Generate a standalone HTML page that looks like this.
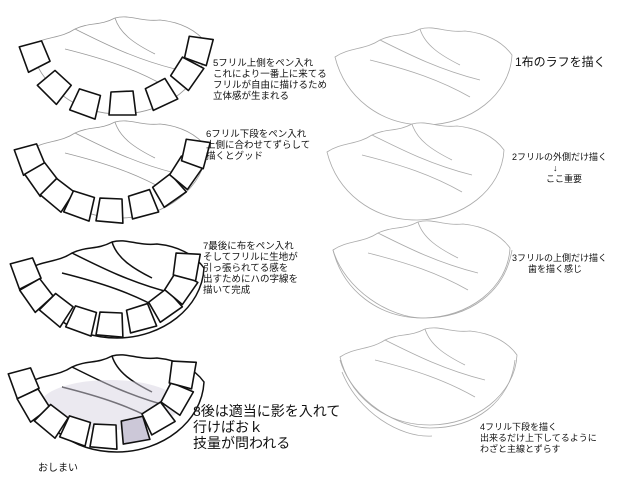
<!DOCTYPE html>
<html><head><meta charset="utf-8"><style>
body{margin:0;background:#fff;}
svg{display:block}
text{font-family:"Liberation Sans","Noto Sans CJK JP",sans-serif;fill:#111;}
</style></head><body>
<svg width="620" height="479" viewBox="0 0 620 479" xmlns="http://www.w3.org/2000/svg">
<defs>
<symbol id="body" overflow="visible">
<path d="M5,32 C20,22 35,25 50,15 C65,8 75,12 90,4 C105,0 115,8 135,6 C155,8 172,16 182,30 C180,70 140,100 95,100 C50,100 15,72 5,32 Z" fill="#fff"/>
<path d="M50,15 C80,30 110,45 150,55 M40,35 C80,45 110,55 140,72 M90,4 C95,20 110,30 130,40" fill="none"/>
</symbol>
<symbol id="blk" overflow="visible"><path d="M-11,-11 L11,-12 L14,12 L-13,12 Z" /></symbol>
</defs>

<g stroke="#999" stroke-width="0.8" fill="none"><use href="#body" x="25" y="14"/></g>
<g stroke="#111" stroke-width="1.6" fill="#fff" stroke-linejoin="round">
<use href="#blk" transform="translate(35,55) rotate(70)"/>
<use href="#blk" transform="translate(55,86) rotate(45)"/>
<use href="#blk" transform="translate(86,103) rotate(20)"/>
<use href="#blk" transform="translate(122,103) rotate(0)"/>
<use href="#blk" transform="translate(160,94) rotate(-25)"/>
<use href="#blk" transform="translate(186,73) rotate(-55)"/>
<use href="#blk" transform="translate(198,50) rotate(-75)"/>
</g>

<g stroke="#999" stroke-width="0.8" fill="none"><use href="#body" x="25" y="118"/></g>
<g stroke="#111" stroke-width="1.6" fill="#fff" stroke-linejoin="round">
<use href="#blk" transform="translate(30,158) rotate(70)"/>
<use href="#blk" transform="translate(42,178) rotate(55)"/>
<use href="#blk" transform="translate(58,194) rotate(40)"/>
<use href="#blk" transform="translate(80,205) rotate(20)"/>
<use href="#blk" transform="translate(110,210) rotate(5)"/>
<use href="#blk" transform="translate(142,204) rotate(-15)"/>
<use href="#blk" transform="translate(168,190) rotate(-35)"/>
<use href="#blk" transform="translate(185,172) rotate(-55)"/>
<use href="#blk" transform="translate(195,153) rotate(-75)"/>
</g>

<g stroke="#111" stroke-width="1.5" fill="none"><use href="#body" x="22" y="238"/></g>
<g stroke="#111" stroke-width="1.6" fill="#fff" stroke-linejoin="round">
<use href="#blk" transform="translate(26,272) rotate(70)"/>
<use href="#blk" transform="translate(37,294) rotate(55)"/>
<use href="#blk" transform="translate(57,309) rotate(40)"/>
<use href="#blk" transform="translate(82,320) rotate(20)"/>
<use href="#blk" transform="translate(110,324) rotate(5)"/>
<use href="#blk" transform="translate(140,318) rotate(-15)"/>
<use href="#blk" transform="translate(164,305) rotate(-35)"/>
<use href="#blk" transform="translate(180,287) rotate(-55)"/>
<use href="#blk" transform="translate(186,266) rotate(-80)"/>
</g>

<g stroke="#111" stroke-width="1.5" fill="none"><use href="#body" x="22" y="352"/></g>
<ellipse cx="110" cy="405" rx="70" ry="25" fill="#d8d4e2" opacity="0.5"/>
<g stroke="#111" stroke-width="1.6" fill="#fff" stroke-linejoin="round">
<use href="#blk" transform="translate(24,382) rotate(70)"/>
<use href="#blk" transform="translate(34,404) rotate(60)"/>
<use href="#blk" transform="translate(52,420) rotate(40)"/>
<use href="#blk" transform="translate(76,430) rotate(20)"/>
<use href="#blk" transform="translate(104,436) rotate(5)"/>
<use href="#blk" transform="translate(134,430) rotate(-10)" fill="#ccc8d8"/>
<use href="#blk" transform="translate(157,418) rotate(-30)"/>
<use href="#blk" transform="translate(176,398) rotate(-60)"/>
<use href="#blk" transform="translate(182,374) rotate(-80)"/>
</g>

<g stroke="#aaa" stroke-width="0.8" fill="none">
<use href="#body" x="330" y="25"/>
<use href="#body" x="322" y="120"/>
<use href="#body" x="328" y="218"/>
<path d="M333,250 C345,290 390,318 423,318 C470,318 505,292 512,250"/>
<use href="#body" x="335" y="325"/>
<path d="M340,360 C352,400 397,428 430,428 C475,428 510,402 515,360"/>
<path d="M342,372 C358,412 400,438 432,436"/>
</g>

<g font-size="9.5">
<text x="213" y="66">5フリル上側をペン入れ</text>
<text x="213" y="77">これにより一番上に来てる</text>
<text x="213" y="88">フリルが自由に描けるため</text>
<text x="213" y="99">立体感が生まれる</text>
<text x="206" y="137">6フリル下段をペン入れ</text>
<text x="206" y="148">上側に合わせてずらして</text>
<text x="206" y="159">描くとグッド</text>
<text x="203" y="249">7最後に布をペン入れ</text>
<text x="203" y="260">そしてフリルに生地が</text>
<text x="203" y="271">引っ張られてる感を</text>
<text x="203" y="282">出すためにハの字線を</text>
<text x="203" y="293">描いて完成</text>
<text x="512" y="160" font-size="9">2フリルの外側だけ描く</text>
<text x="553" y="171" font-size="9">↓</text>
<text x="546" y="182" font-size="9">ここ重要</text>
<text x="512" y="261" font-size="9">3フリルの上側だけ描く</text>
<text x="528" y="272" font-size="9">歯を描く感じ</text>
<text x="480" y="430" font-size="9">4フリル下段を描く</text>
<text x="480" y="441" font-size="9">出来るだけ上下してるように</text>
<text x="480" y="452" font-size="9">わざと主線とずらす</text>
<text x="38" y="471" font-size="10">おしまい</text>
</g>
<text x="515" y="66" font-size="12">1布のラフを描く</text>
<g font-size="14">
<text x="193" y="416">8後は適当に影を入れて</text>
<text x="193" y="432">行けばおｋ</text>
<text x="193" y="448">技量が問われる</text>
</g>
</svg>
</body></html>
